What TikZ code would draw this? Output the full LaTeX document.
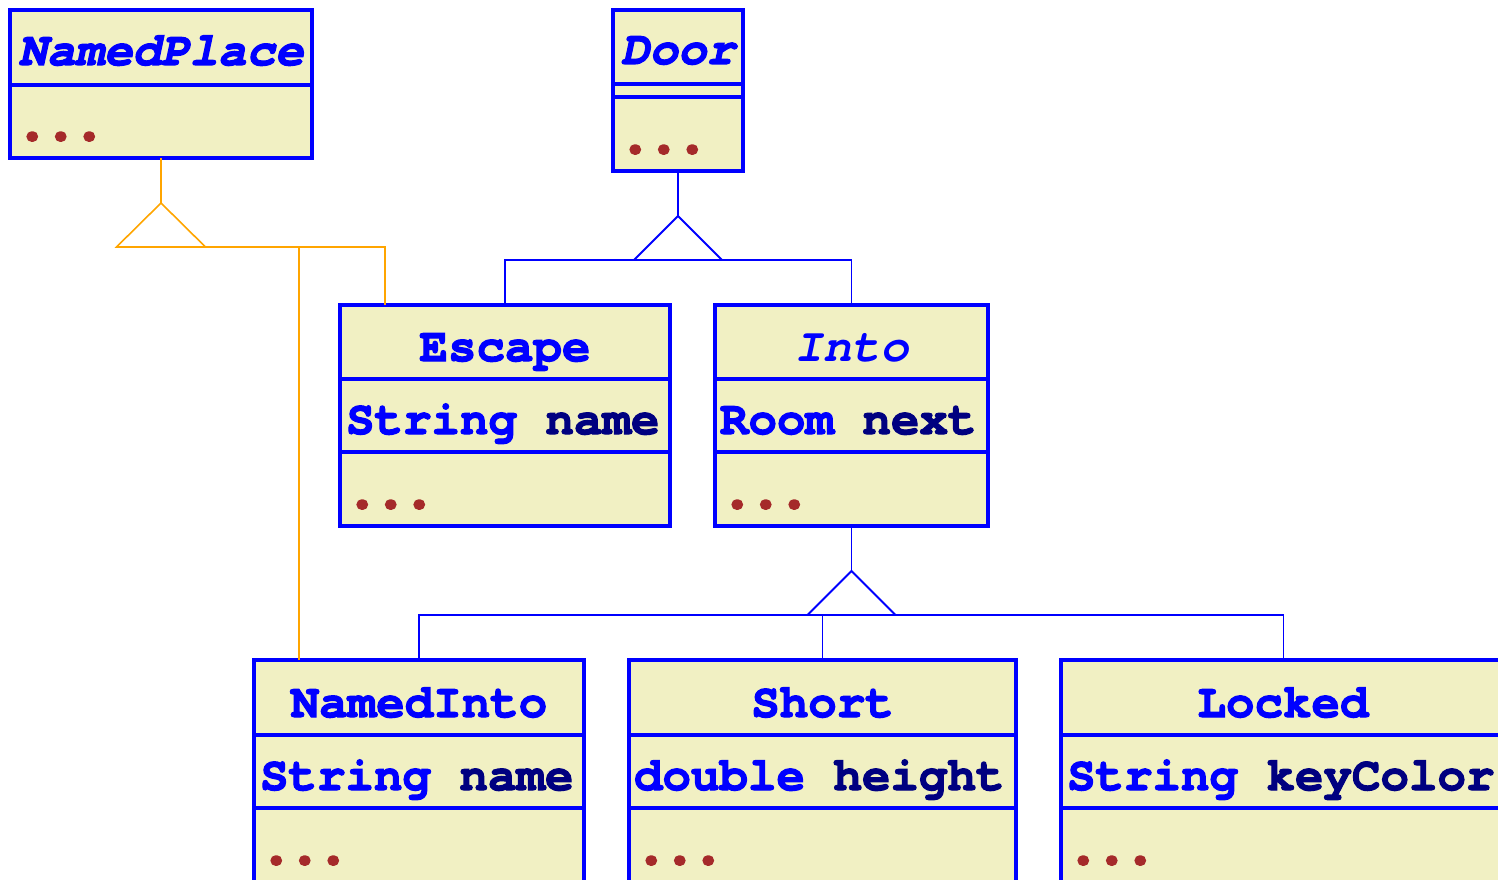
\documentclass[tikz,border=0pt]{standalone}
\usepackage{fontspec}
\newfontfamily\cmono[BoldFeatures={FakeBold=2.5},BoldItalicFeatures={FakeBold=2.5}]{TeX Gyre Cursor}
\newfontfamily\umldotfont[BoldFeatures={FakeBold=9}]{TeX Gyre Cursor}
\newfontfamily\umlitfont{TeX Gyre Cursor}
\definecolor{umlblue}{HTML}{0000FF}
\definecolor{umlnavy}{HTML}{000080}
\definecolor{umlfill}{HTML}{F1F0C3}
\definecolor{umldots}{HTML}{A52A2A}
\definecolor{umlorange}{HTML}{FFA500}
\tikzset{
  comp/.style={draw=umlblue, fill=umlfill, line width=3.4pt, rectangle, inner sep=0pt, outer sep=0pt, anchor=north west},
  txt/.style={inner sep=0pt, outer sep=0pt, font=\cmono\fontsize{47.5}{50}\selectfont},
  hdr/.style={txt, anchor=base, text=umlblue, font=\cmono\bfseries\fontsize{47.5}{50}\selectfont},
  hdri/.style={txt, anchor=base, text=umlblue, font=\cmono\bfseries\itshape\fontsize{47.5}{50}\selectfont},
  hdril/.style={txt, anchor=base, text=umlblue, font=\umlitfont\bfseries\itshape\fontsize{47.5}{50}\selectfont},
  attr/.style={txt, anchor=base west, font=\cmono\bfseries\fontsize{47.5}{50}\selectfont},
  dotsl/.style={txt, anchor=base west, text=umldots, font=\umldotfont\bfseries\fontsize{47.5}{50}\selectfont},
  genb/.style={draw=umlblue, line width=1.8pt},
  geno/.style={draw=umlorange, line width=1.6pt},
}
\begin{document}
\begin{tikzpicture}[x=1pt,y=-1pt]
\useasboundingbox (0,0) rectangle (1498,880);
\clip (0,0) rectangle (1498,880);

% ---------- boxes ----------
% NamedPlace
\node[comp, minimum width=302, minimum height=75] (np-h) at (10,10) {};
\node[comp, minimum width=302, minimum height=73] (np-m) at (10,85) {};
% Door
\node[comp, minimum width=130, minimum height=74] (dr-h) at (613,10) {};
\node[comp, minimum width=130, minimum height=13] (dr-a) at (613,84) {};
\node[comp, minimum width=130, minimum height=74] (dr-m) at (613,97) {};
% Escape
\node[comp, minimum width=330, minimum height=74] (es-h) at (340,305) {};
\node[comp, minimum width=330, minimum height=73] (es-a) at (340,379) {};
\node[comp, minimum width=330, minimum height=74] (es-m) at (340,452) {};
% Into
\node[comp, minimum width=273, minimum height=74] (in-h) at (715,305) {};
\node[comp, minimum width=273, minimum height=73] (in-a) at (715,379) {};
\node[comp, minimum width=273, minimum height=74] (in-m) at (715,452) {};
% NamedInto
\node[comp, minimum width=330, minimum height=75] (ni-h) at (254,660) {};
\node[comp, minimum width=330, minimum height=73] (ni-a) at (254,735) {};
\node[comp, minimum width=330, minimum height=80] (ni-m) at (254,808) {};
% Short
\node[comp, minimum width=387, minimum height=75] (sh-h) at (629,660) {};
\node[comp, minimum width=387, minimum height=73] (sh-a) at (629,735) {};
\node[comp, minimum width=387, minimum height=80] (sh-m) at (629,808) {};
% Locked
\node[comp, minimum width=445, minimum height=75] (lk-h) at (1061,660) {};
\node[comp, minimum width=445, minimum height=73] (lk-a) at (1061,735) {};
\node[comp, minimum width=445, minimum height=80] (lk-m) at (1061,808) {};

% ---------- texts ----------
\node[hdri] (np-t) at (161,65) {NamedPlace};
\node[dotsl] (np-d) at (18,139) {...};
\node[hdri] (dr-t) at (678,64) {Door};
\node[dotsl] (dr-d) at (621,152) {...};

\node[hdr] (es-t) at (505,361) {Escape};
\node[attr] (es-at) at (346,434) {\textcolor{umlblue}{String} \textcolor{umlnavy}{name}};
\node[dotsl] (es-d) at (348,507) {...};

\node[hdril] (in-t) at (851.5,361) {Into};
\node[attr] (in-at) at (720,434) {\textcolor{umlblue}{Room} \textcolor{umlnavy}{next}};
\node[dotsl] (in-d) at (723,507) {...};

\node[hdr] (ni-t) at (419,717) {NamedInto};
\node[attr] (ni-at) at (260,790) {\textcolor{umlblue}{String} \textcolor{umlnavy}{name}};
\node[dotsl] (ni-d) at (262,863) {...};

\node[hdr] (sh-t) at (822.5,717) {Short};
\node[attr] (sh-at) at (634,790) {\textcolor{umlblue}{double} \textcolor{umlnavy}{height}};
\node[dotsl] (sh-d) at (637,863) {...};

\node[hdr] (lk-t) at (1283,717) {Locked};
\node[attr] (lk-at) at (1067,790) {\textcolor{umlblue}{String} \textcolor{umlnavy}{keyColor}};
\node[dotsl] (lk-d) at (1069,863) {...};

% ---------- generalizations ----------
% Door
\coordinate (t1) at (678,216);
\coordinate (t1b) at (678,260);
\draw[genb] (dr-m.south) -- (t1);
\draw[genb] (t1) -- ++(-44,44) -- ++(88,0) -- cycle;
\draw[genb] (t1b) -| (es-h.north);
\draw[genb] (t1b) -| (in-h.north);
% NamedPlace
\coordinate (t2) at (161,203);
\coordinate (t2b) at (161,247);
\coordinate (ni-in) at (299,660);
\coordinate (es-in) at (385,305);
\draw[geno] (np-m.south) -- (t2);
\draw[geno] (t2) -- ++(-44.5,44) -- ++(89,0) -- cycle;
\draw[geno, line width=2.6pt] (t2b) -- (ni-in |- t2b);
\draw[geno] (t2b) -| (ni-in);
\draw[geno] (t2b) -| (es-in);
% Into
\coordinate (t3) at (851.5,571);
\coordinate (t3b) at (851.5,615);
\draw[genb] (in-m.south) -- (t3);
\draw[genb] (t3) -- ++(-44,44) -- ++(88,0) -- cycle;
\draw[genb] (t3b) -| (ni-h.north);
\draw[genb] (t3b) -| (sh-h.north);
\draw[genb] (t3b) -| (lk-h.north);
\end{tikzpicture}
\end{document}
